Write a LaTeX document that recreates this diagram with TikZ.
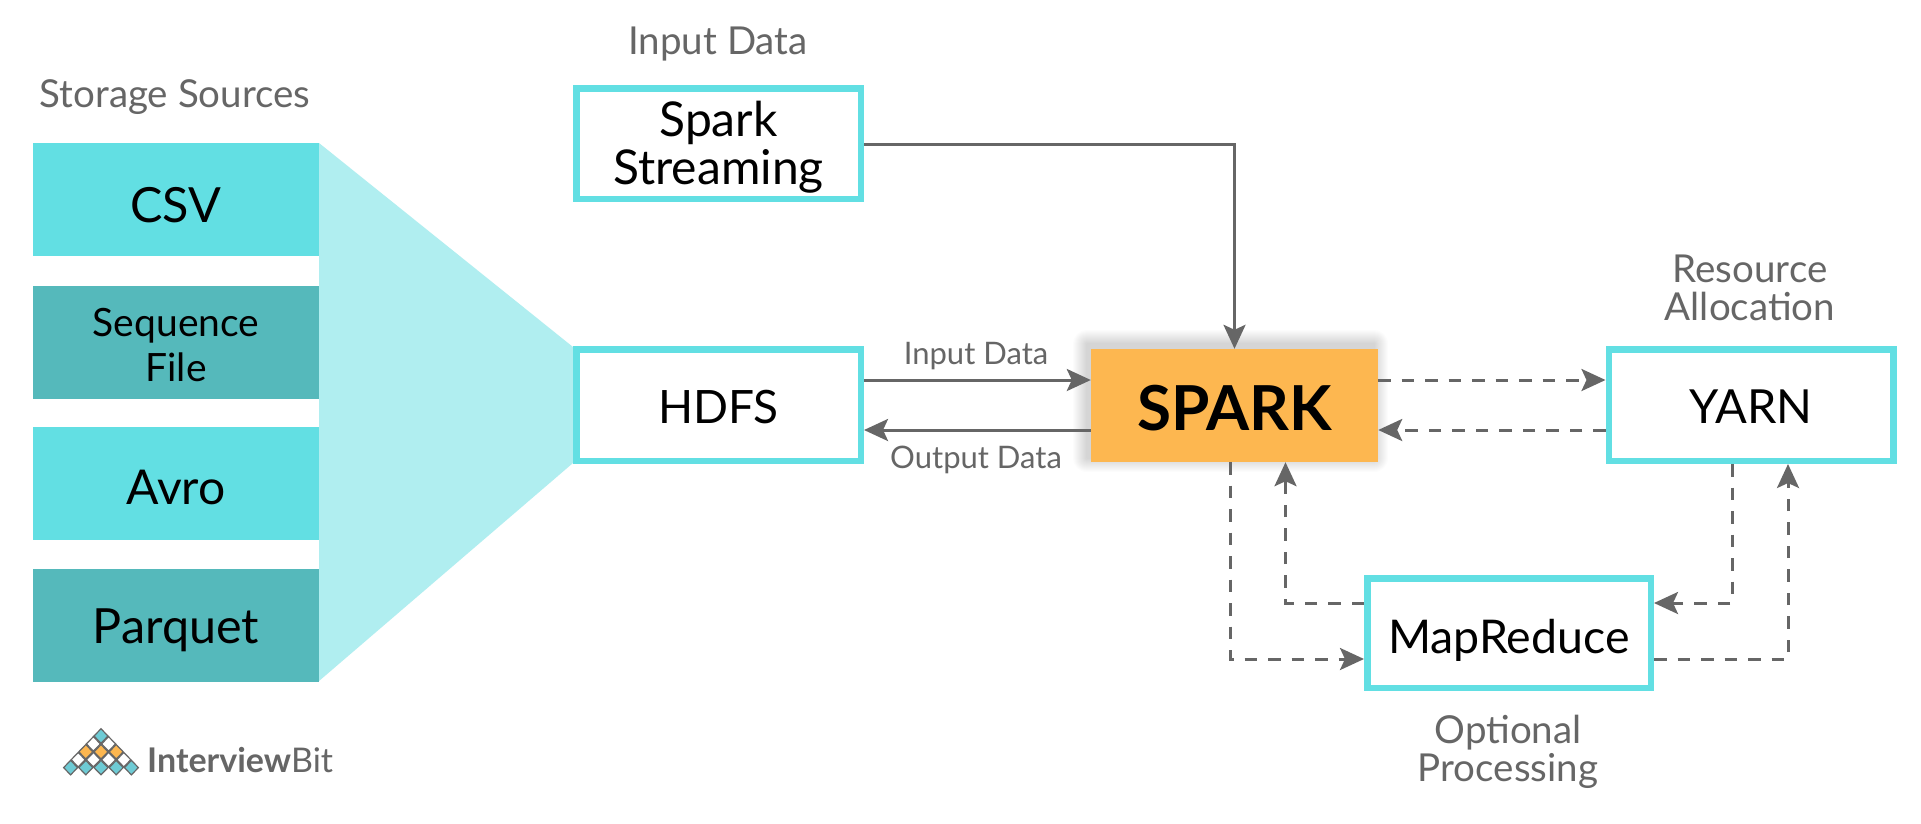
\documentclass[tikz,border=0pt]{standalone}
\usepackage{fontspec}
\setmainfont{Lato}
\usetikzlibrary{arrows.meta,calc,shapes.geometric}
\definecolor{cy}{HTML}{62DFE3}
\definecolor{tl}{HTML}{55B9BB}
\definecolor{pale}{HTML}{B0EEF0}
\definecolor{org}{HTML}{FDB750}
\definecolor{gr}{HTML}{666666}
\definecolor{lt}{HTML}{6ECBD5}
\newcommand{\fs}[2]{\fontsize{#1}{#2}\selectfont}
\newcommand{\dn}[2]{\raisebox{-#1pt}[\height][\depth]{#2}}
\newcommand{\stk}[1]{\begin{tabular}{@{}c@{}}#1\end{tabular}}
\tikzset{
 x=1pt,y=-1pt,
 src/.style={rectangle,minimum width=286pt,minimum height=113pt,inner sep=0pt,text=black},
 framed/.style={rectangle,draw=cy,line width=6.5pt,fill=white,inner sep=0pt,text=black,align=center},
 head/.style={text=gr,font=\fs{38.5}{38},align=center,inner sep=0pt},
 lab/.style={text=gr,font=\fs{31}{31},inner sep=0pt},
 solidarrow/.style={draw=gr,line width=3pt,-{Stealth[length=24pt,width=22pt,inset=5pt]}},
 dasharrow/.style={solidarrow,dash pattern=on 12.5pt off 11pt},
 dia/.style={diamond,minimum width=14.5pt,minimum height=15pt,inner sep=0pt,draw=gr,line width=1.2pt},
}
\begin{document}
\begin{tikzpicture}
\useasboundingbox (0,0) rectangle (1921,823);
\fill[white] (0,0) rectangle (1921,823);
% trapezoid
\fill[pale] (319,143) -- (573,347) -- (573,463) -- (319,681) -- cycle;
% storage
\node[src,fill=cy,font=\fs{48.5}{48}] (csv) at (176,199.5) {\dn{6}{CSV}};
\node[src,fill=tl,font=\fs{39}{45}] (seq) at (176,342) {\dn{7.5}{\stk{Sequence\\File}}};
\node[src,fill=cy,font=\fs{48}{48}] (avro) at (176,483.5) {\dn{4}{Avro}};
\node[src,fill=tl,font=\fs{48.5}{48}] (parquet) at (176,625) {\dn{5}{Parquet}};
\node[head] (hstore) at (175,97) {Storage Sources};
% boxes
\node[framed,minimum width=284.5pt,minimum height=110.5pt,font=\fs{48}{45}] (stream) at (718.5,143.5) {\dn{6}{\stk{Spark\\Streaming}}};
\node[framed,minimum width=284.5pt,minimum height=111.5pt,font=\fs{46}{46}] (hdfs) at (718.5,405) {\dn{2}{HDFS}};
\node[framed,minimum width=284.5pt,minimum height=111.5pt,font=\fs{47}{47}] (yarn) at (1751,405) {\dn{2}{YARN}};
\node[framed,minimum width=283.5pt,minimum height=109.5pt,font=\fs{46.5}{46}] (mr) at (1509,633) {\dn{7}{MapReduce}};
% spark shadow
\foreach \i in {1,...,14}{
 \fill[black,opacity=0.012,rounded corners=\i pt] ({1087-\i},{344-\i}) rectangle ({1374+\i},{458+\i});
}
\node[rectangle,fill=org,minimum width=287pt,minimum height=113pt,inner sep=0pt,text=black,font=\fs{62}{62}\bfseries] (spark) at (1234.5,405.5) {\dn{3}{SPARK}};
% labels
\node[head] (hin) at (718,44) {Input Data};
\node[head] (hres) at (1750,288) {Resource\\Allocation};
\node[head] (hopt) at (1508,752) {Optional\\Processing};
\node[lab] (lin) at (976,356) {Input Data};
\node[lab] (lout) at (976,460) {Output Data};
% port levels
\coordinate (rowA) at (0,380);
\coordinate (rowB) at (0,430);
\coordinate (rowC) at (0,603);
\coordinate (rowD) at (0,659);
\coordinate (colA) at (1230,0);
\coordinate (colB) at (1285.5,0);
\coordinate (colC) at (1732,0);
\coordinate (colD) at (1788,0);
\coordinate (rowE) at (0,144.5);
% connectors
\draw[solidarrow] (stream.east |- rowE) -| (spark.north);
\draw[solidarrow] (hdfs.east |- rowA) -- (spark.west |- rowA);
\draw[solidarrow] (spark.west |- rowB) -- (hdfs.east |- rowB);
\draw[dasharrow] (spark.east |- rowA) -- (yarn.west |- rowA);
\draw[dasharrow] (yarn.west |- rowB) -- (spark.east |- rowB);
\draw[dasharrow] (spark.south -| colA) |- (mr.west |- rowD);
\draw[dasharrow] (mr.west |- rowC) -| (spark.south -| colB);
\draw[dasharrow] (yarn.south -| colC) |- (mr.east |- rowC);
\draw[dasharrow] (mr.east |- rowD) -| (yarn.south -| colD);
% logo
\foreach \c/\r/\f [count=\n] in {0/0/lt,-1/1/white,1/1/white,-2/2/org,0/2/org,2/2/org,-3/3/white,-1/3/white,1/3/white,3/3/white,-4/4/lt,-2/4/lt,0/4/lt,2/4/lt,4/4/lt}{
 \node[dia,fill=\f] (d\n) at ({101+7.6*\c},{736+7.9*\r}) {};
}
\node[anchor=base west,inner sep=0pt,text=gr,font=\fs{34}{34}] (logo) at (147,772) {\textbf{Interview}Bit};
\end{tikzpicture}
\end{document}
